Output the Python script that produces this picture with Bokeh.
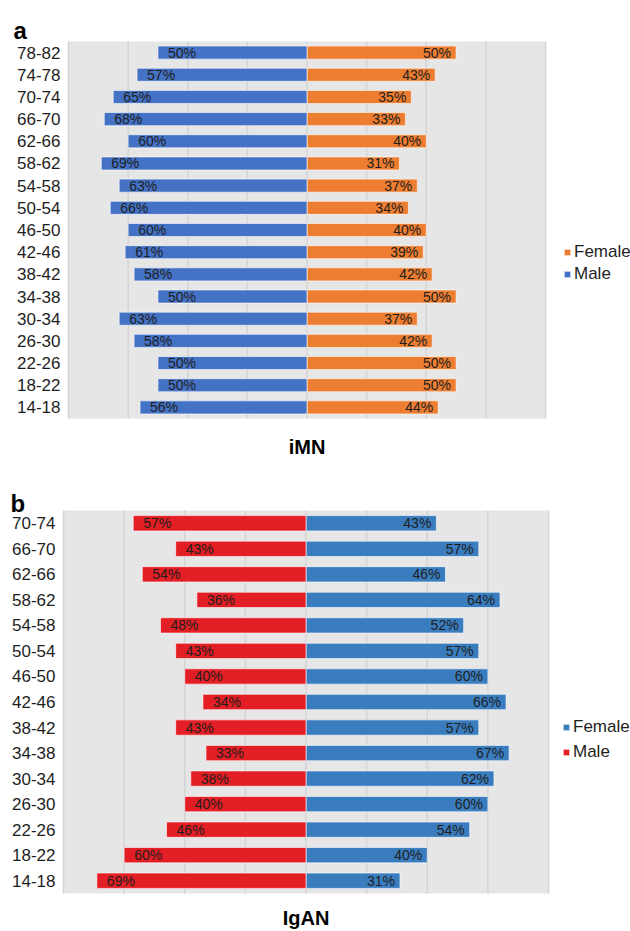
from bokeh.plotting import figure
from bokeh.models import (ColumnDataSource, Range1d, BoxAnnotation, Legend, LegendItem)
from bokeh.layouts import column
from bokeh.core.properties import value
from bokeh.embed import file_html
from bokeh.resources import INLINE

# ---------------- data ----------------
cats_a = ["78-82", "74-78", "70-74", "66-70", "62-66", "58-62", "54-58", "50-54",
          "46-50", "42-46", "38-42", "34-38", "30-34", "26-30", "22-26", "18-22", "14-18"]
male_a = [50, 57, 65, 68, 60, 69, 63, 66, 60, 61, 58, 50, 63, 58, 50, 50, 56]
female_a = [50, 43, 35, 33, 40, 31, 37, 34, 40, 39, 42, 50, 37, 42, 50, 50, 44]

cats_b = ["70-74", "66-70", "62-66", "58-62", "54-58", "50-54", "46-50", "42-46",
          "38-42", "34-38", "30-34", "26-30", "22-26", "18-22", "14-18"]
male_b = [57, 43, 54, 36, 48, 43, 40, 34, 43, 33, 38, 40, 46, 60, 69]
female_b = [43, 57, 46, 64, 52, 57, 60, 66, 57, 67, 62, 60, 54, 40, 31]

grid_ticks = [-0.8, -0.6, -0.4, -0.2, 0.0, 0.2, 0.4, 0.6, 0.8]

FONT = value("Liberation Sans")
TXT = "#1e1e1e"
XMAX = 0.8


def make_panel(cats, male, female, male_color, female_color, letter, title,
               height, plot_left, plot_right, plot_top, plot_bottom, bar_h,
               legend_xy, legend_spacing, letter_px, title_py):
    W = 630
    n = len(cats)
    # page-pixel -> data mapping (layout only)
    sx = (plot_right - plot_left) / (2 * XMAX)
    cx = (plot_left + plot_right) / 2
    sy = (plot_bottom - plot_top) / n
    x0, x1 = (0 - cx) / sx, (W - cx) / sx
    y0, y1 = (plot_bottom - height) / sy, plot_bottom / sy

    ys = [n - k - 0.5 for k in range(n)]
    src = ColumnDataSource(dict(
        y=ys,
        cat=cats,
        m=[-v / 100 for v in male],
        f=[v / 100 for v in female],
        zero=[0] * n,
        edge=[-XMAX] * n,
        ml=[f"{v}%" for v in male],
        fl=[f"{v}%" for v in female],
    ))
    p = figure(width=W, height=height, output_backend="svg", toolbar_location=None,
               title=None, x_axis_location=None, y_axis_location=None,
               x_range=Range1d(x0, x1), y_range=Range1d(y0, y1),
               min_border=0)
    p.min_border_left = p.min_border_right = p.min_border_top = p.min_border_bottom = 0
    p.background_fill_color = "white"
    p.border_fill_color = "white"
    p.outline_line_color = None
    p.grid.visible = False

    p.add_layout(BoxAnnotation(left=-XMAX, right=XMAX, bottom=0, top=n,
                               fill_color="#E6E6E6", fill_alpha=1,
                               line_color=None, level="underlay"))
    p.segment(x0=grid_ticks, x1=grid_ticks, y0=[0] * len(grid_ticks),
              y1=[n] * len(grid_ticks), line_color="#D4D4D4", line_width=1.5)

    rf = p.hbar(y="y", left="zero", right="f", height=bar_h, source=src,
                fill_color=female_color, line_color="white", line_alpha=0.6, line_width=1)
    rm = p.hbar(y="y", left="m", right="zero", height=bar_h, source=src,
                fill_color=male_color, line_color="white", line_alpha=0.6, line_width=1)

    p.text(x="m", y="y", text="ml", source=src, x_offset=10,
           text_align="left", text_baseline="middle", text_font=FONT,
           text_font_size="14px", text_color=TXT)
    p.text(x="f", y="y", text="fl", source=src, x_offset=-5,
           text_align="right", text_baseline="middle", text_font=FONT,
           text_font_size="14px", text_color=TXT)
    # category labels
    p.text(x="edge", y="y", text="cat", source=src, x_offset=-8,
           text_align="right", text_baseline="middle", text_font=FONT,
           text_font_size="17px", text_color=TXT)

    # panel letter and title
    p.text(x=[(letter_px[0] - cx) / sx], y=[(plot_bottom - letter_px[1]) / sy],
           text=[letter], text_font=FONT, text_font_style="bold",
           text_font_size="24px", text_color="black",
           text_align="left", text_baseline="alphabetic")
    p.text(x=[0], y=[(plot_bottom - title_py) / sy], text=[title], text_font=FONT,
           text_font_style="bold", text_font_size="20px", text_color="black",
           text_align="center", text_baseline="middle")

    leg = Legend(items=[LegendItem(label="Female", renderers=[rf]),
                        LegendItem(label="Male", renderers=[rm])],
                 location=legend_xy, orientation="vertical",
                 glyph_width=8, glyph_height=8, label_height=20,
                 label_standoff=3, spacing=legend_spacing, padding=0, margin=0,
                 border_line_color=None, background_fill_alpha=0,
                 label_text_font="Liberation Sans", label_text_font_size="17px",
                 label_text_color=TXT)
    p.add_layout(leg, "center")
    return p


pa = make_panel(cats_a, male_a, female_a, "#4472C4", "#ED7D31", "a", "iMN",
                height=466, plot_left=68, plot_right=545, plot_top=41, plot_bottom=418,
                bar_h=0.59, legend_xy=(563, 182), legend_spacing=2,
                letter_px=(13, 30), title_py=446)
pb = make_panel(cats_b, male_b, female_b, "#E31E24", "#3A7DBF", "b", "IgAN",
                height=464, plot_left=63, plot_right=548, plot_top=44, plot_bottom=427,
                bar_h=0.6, legend_xy=(562, 168), legend_spacing=5,
                letter_px=(10, 37), title_py=451.5)

layout = column(pa, pb, spacing=0)
open("out.html", "w").write(file_html(layout, INLINE))
